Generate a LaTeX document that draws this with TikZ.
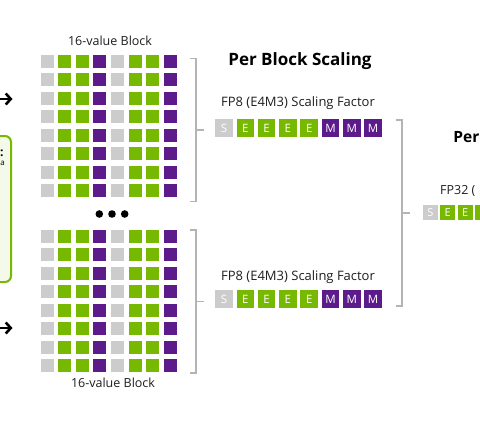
\documentclass[tikz,border=0pt]{standalone}
\usepackage{fontspec}
\setmainfont{Open Sans}
\usetikzlibrary{arrows.meta}
\definecolor{nvgreen}{HTML}{76B900}
\definecolor{nvpurple}{HTML}{5C1A8A}
\definecolor{cellgray}{HTML}{CCCCCC}
\definecolor{brk}{HTML}{B4B4B4}
\definecolor{boxfill}{HTML}{F4F9EA}
\definecolor{txt}{HTML}{1E1E1E}
\begin{document}
\begin{tikzpicture}[x=1pt,y=-1pt,
  cell/.style={minimum width=13pt,minimum height=13pt,inner sep=0pt,outer sep=0pt},
  sfcell/.style={minimum width=17.6pt,minimum height=17.6pt,inner sep=0pt,outer sep=0pt,text=white,font=\fontsize{11.5}{11.5}\selectfont},
  fpcell/.style={minimum width=15pt,minimum height=15pt,inner sep=0pt,outer sep=0pt,text=white,font=\fontsize{11}{11}\selectfont},
  lbl/.style={text=txt,inner sep=0pt,font=\fontsize{12.5}{12.5}\selectfont},
  head/.style={text=black,inner sep=0pt,font=\bfseries\fontsize{17}{17}\selectfont},
  brace/.style={draw=brk,line width=1.3pt},
  bigarrow/.style={line width=2.6pt,-{Straight Barb[length=5pt,width=11pt]}},
  dot/.style={circle,fill=black,minimum size=7.6pt,inner sep=0pt}
]
\clip (0,0) rectangle (480,434);
\fill[white] (0,0) rectangle (480,434);

% value blocks
\foreach \r in {0,...,7}{
  \foreach \c/\col in {0/cellgray,1/nvgreen,2/nvgreen,3/nvpurple,4/cellgray,5/nvgreen,6/nvgreen,7/nvpurple}{
    \node[cell,fill=\col] (u\r-\c) at ({47+17.6*\c},{61.5+18.45*\r}) {};
    \node[cell,fill=\col] (l\r-\c) at ({47+17.6*\c},{236+18.55*\r}) {};
  }
}
\node[lbl] (toplbl) at (110,41) {16-value Block};
\node[lbl] (botlbl) at (113,383) {16-value Block};

% dots
\node[dot] (d1) at (99.3,214) {};
\node[dot] (d2) at (112,214) {};
\node[dot] (d3) at (124.7,214) {};

% heading
\node[head] (h1) at (300,61) {Per Block Scaling};
\node[head,anchor=east,font=\bfseries\fontsize{15.5}{15.5}\selectfont] (h2) at (479.6,137) {Per};

% FP8 scaling factors
\node[lbl,font=\fontsize{13}{13}\selectfont] (sf1lbl) at (298,103.5) {FP8 (E4M3) Scaling Factor};
\node[lbl,font=\fontsize{13}{13}\selectfont] (sf2lbl) at (298,277) {FP8 (E4M3) Scaling Factor};
\foreach \i/\col/\t in {0/cellgray/S,1/nvgreen/E,2/nvgreen/E,3/nvgreen/E,4/nvgreen/E,5/nvpurple/M,6/nvpurple/M,7/nvpurple/M}{
  \node[sfcell,fill=\col] (a\i) at ({224+21.3*\i},128) {\t};
  \node[sfcell,fill=\col] (b\i) at ({224+21.3*\i},299) {\t};
}

% FP32 scaling factor (cut by the right edge)
\node[lbl,anchor=west] (fplbl) at (440,191) {FP32 (};
\foreach \i/\col/\t in {0/cellgray/S,1/nvgreen/E,2/nvgreen/E}{
  \node[fpcell,fill=\col] (f\i) at ({430.5+17.3*\i},212.5) {\t};
}
\node[fpcell,fill=nvgreen] (f3) at ({430.5+17.3*3},212.5) {};

% braces
\draw[brace] (190,58.5) -- (196,58.5) -- (196,201.5) -- (190,201.5);
\draw[brace] (196,130) -- (204,130);
\draw[brace] (190,230) -- (196,230) -- (196,373) -- (190,373);
\draw[brace] (196,301.5) -- (204,301.5);
\draw[brace] (396,120) -- (402,120) -- (402,306) -- (396,306);
\draw[brace] (402,213) -- (410,213);

% left box (cut by the left edge)
\node[draw=nvgreen,line width=2pt,fill=boxfill,rounded corners=6pt,minimum width=40pt,minimum height=146pt,inner sep=0pt] (box) at (-9,209) {};
\node[inner sep=0pt,anchor=east,font=\bfseries\fontsize{12}{12}\selectfont] (c1) at (3.8,153) {:};
\node[inner sep=0pt,anchor=west,font=\fontsize{8}{8}\selectfont] (c2) at (0.2,163.5) {a};

% arrows (cut by the left edge)
\coordinate (s1) at (-10,99);
\coordinate (e1) at (12.5,99);
\coordinate (s2) at (-10,328);
\coordinate (e2) at (12.5,328);
\draw[bigarrow] (s1) -- (e1);
\draw[bigarrow] (s2) -- (e2);
\end{tikzpicture}
\end{document}
